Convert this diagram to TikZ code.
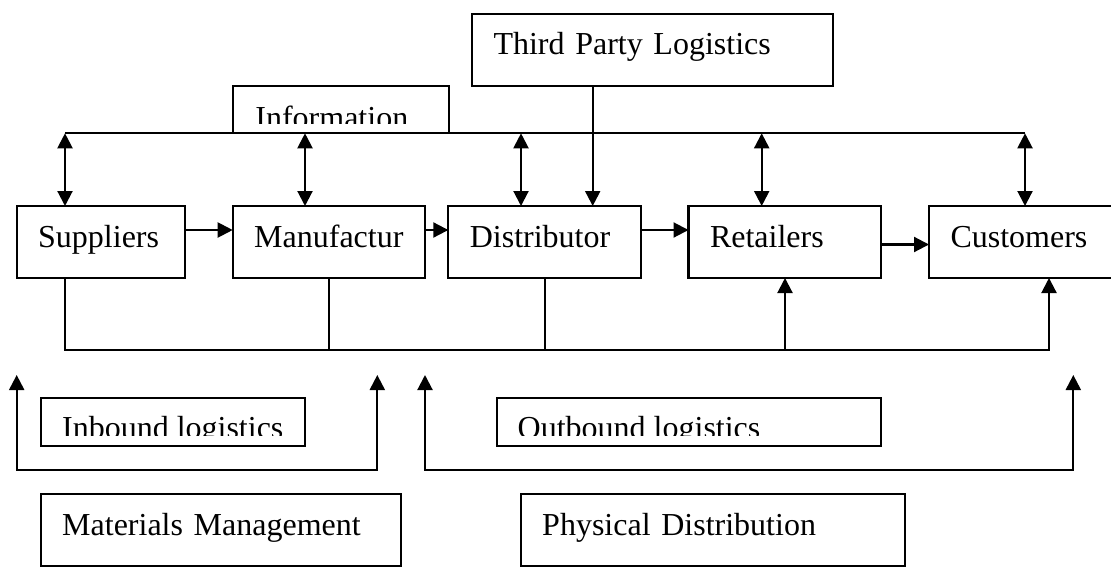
\documentclass[tikz,border=0pt]{standalone}
\usepackage{fontspec}
\setmainfont{Liberation Serif}
\usetikzlibrary{arrows.meta}
\newcommand\bxfont{\fontsize{16}{19}\selectfont\hyphenpenalty=10000\exhyphenpenalty=10000}
\tikzset{
  bx/.style={draw, line width=1.1pt, anchor=north west, inner sep=0pt, outer sep=0pt,
    align=left, font=\bxfont, text height=20.5pt, text depth=15.5pt,
    execute at begin node={\hspace*{10.75pt}}},
  ln/.style={line width=1.05pt},
  arr/.style={line width=1.05pt, -{Triangle[length=7.5pt,width=7.5pt]}},
  dbl/.style={line width=1.05pt, {Triangle[length=7.5pt,width=7.5pt]}-{Triangle[length=7.5pt,width=7.5pt]}},
  txt/.style={anchor=base west, inner sep=0pt, font=\bxfont},
}
\begin{document}
\begin{tikzpicture}[x=0.5pt,y=-0.5pt]
\useasboundingbox (0,0) rectangle (1111,567);
\clip (0,0) rectangle (1111,567);
\fill[white] (0,0) rectangle (1111,567);

% top boxes
\node[bx, text width=180.5pt] (tpl) at (472,14) {Third Party Logistics};
\node[bx, text width=108pt, text depth=3.15pt] (info) at (233,86) {};
\begin{scope}
  \clip (info.north west) rectangle ([yshift=5pt]info.south east);
  \node[txt] (infot) at ([xshift=11pt,yshift=-21pt]info.north west) {Information};
\end{scope}

% main row
\node[bx, text width=84.15pt] (sup) at (16.7,206) {Suppliers};
\node[bx, text width=96.15pt] (man) at (232.7,206) {Manufactur};
\node[bx, text width=96.35pt] (dist) at (448.3,206) {Distributor};
\node[bx, text width=96.25pt] (ret) at (688.5,206) {Retailers};
\node[bx, text width=93pt] (cust) at (929,206) {Customers};

% lower boxes
\node[bx, text width=132.15pt, text depth=3.65pt] (inb) at (40.7,397.7) {};
\node[bx, text width=192.15pt, text depth=3.65pt] (outb) at (496.7,397.7) {};
\begin{scope}
  \clip (inb.north west) rectangle ([yshift=5.15pt]inb.south east);
  \node[txt] (inbt) at ([xshift=10.5pt,yshift=-20.4pt]inb.north west) {Inbound logistics};
\end{scope}
\begin{scope}
  \clip (outb.north west) rectangle ([yshift=5.15pt]outb.south east);
  \node[txt] (outbt) at ([xshift=10.3pt,yshift=-20.4pt]outb.north west) {Outbound logistics};
\end{scope}
\node[bx, text width=180.15pt] (mat) at (40.7,494) {Materials Management};
\node[bx, text width=192.15pt] (phys) at (520.7,494) {Physical Distribution};

% flow arrows
\draw[arr] ([yshift=6pt]sup.east) -- ([yshift=6pt]man.west);
\draw[arr] ([yshift=6pt]man.east) -- ([yshift=6pt]dist.west);
\draw[arr] ([yshift=6pt]dist.east) -- ([yshift=6pt]ret.west);
\draw[arr] ([yshift=-1.25pt]ret.east) -- ([yshift=-1.25pt]cust.west);

% information line
\coordinate (i1) at (65,133.3);
\coordinate (i2) at (305,133.3);
\coordinate (i3) at (521,133.3);
\coordinate (i4) at (761.7,133.3);
\coordinate (i5) at (1025,133.3);
\draw[ln] (i1) -- (i5);
\draw[dbl] (i1) -- (i1 |- sup.north);
\draw[dbl] (i2) -- (i2 |- man.north);
\draw[dbl] (i3) -- (i3 |- dist.north);
\draw[dbl] (i4) -- (i4 |- ret.north);
\draw[dbl] (i5) -- (i5 |- cust.north);

% third party logistics
\coordinate (t) at (592.7,0);
\draw[arr] (tpl.south -| t) -- (dist.north -| t);

% bottom line
\coordinate (b1) at (65,350);
\coordinate (b2) at (329,350);
\coordinate (b3) at (545,350);
\coordinate (b4) at (785,350);
\coordinate (b5) at (1049,350);
\draw[arr] (sup.south -| b1) -- (b1) -- (b5) -- (b5 |- cust.south);
\draw[ln] (man.south -| b2) -- (b2);
\draw[ln] (dist.south -| b3) -- (b3);
\draw[arr] (b4) -- (b4 |- ret.south);

% lower brackets
\coordinate (l1) at (16.7,375);
\coordinate (lb1) at (16.7,470);
\coordinate (lb2) at (377.3,470);
\coordinate (l2) at (377.3,375);
\coordinate (r1) at (425,375);
\coordinate (rb1) at (425,470);
\coordinate (rb2) at (1073.3,470);
\coordinate (r2) at (1073.3,375);
\draw[dbl] (l1) -- (lb1) -- (lb2) -- (l2);
\draw[dbl] (r1) -- (rb1) -- (rb2) -- (r2);
\end{tikzpicture}
\end{document}
